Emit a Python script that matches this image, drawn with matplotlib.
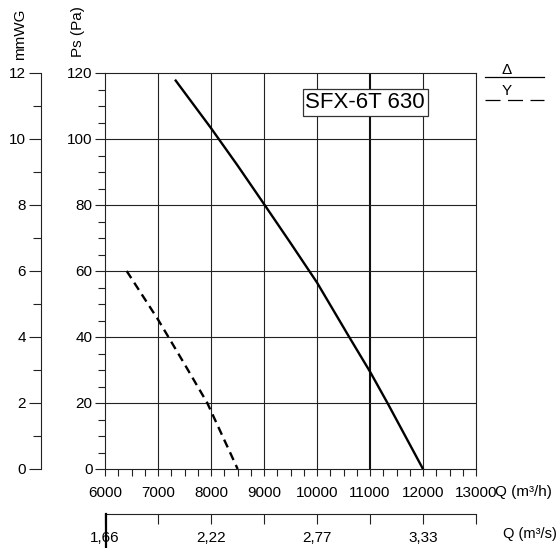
import numpy as np
import matplotlib
matplotlib.use("Agg")
import matplotlib.pyplot as plt
from matplotlib.lines import Line2D
from matplotlib.ticker import MultipleLocator, FixedLocator

plt.rcParams["font.family"] = ["Liberation Sans", "DejaVu Sans"]

# curve data
q_delta = [7334, 8000, 8500, 9000, 9500, 10000, 10600, 11000, 11330, 12000]
ps_delta = [117.7, 103.3, 92.0, 80.3, 68.5, 56.5, 40.2, 29.5, 20.0, 0]

q_star = [6409, 7000, 7500, 7930, 8503]
ps_star = [60, 45.3, 31.8, 20.0, 0]

q_ticks = [6000, 7000, 8000, 9000, 10000, 11000, 12000, 13000]
qs_ticks = [6000, 8000, 10000, 12000]
qs_labels = ["1,66", "2,22", "2,77", "3,33"]
mm_ticks = [0, 2, 4, 6, 8, 10, 12]

W, H = 560, 548
fig = plt.figure(figsize=(W / 100, H / 100), dpi=100)
FS = 11

def fx(px):
    return px / W

def fy(py):
    return 1 - py / H

x0, x1 = 105, 476
y0, y1 = 469, 73
ax = fig.add_axes([fx(x0), fy(y0), fx(x1 - x0), (y0 - y1) / H])
ax.set_xlim(6000, 13000)
ax.set_ylim(0, 120)

for v in q_ticks[1:-1]:
    if v == 11000:
        ax.axvline(v, color="#111111", lw=1.5, zorder=1)
    else:
        ax.axvline(v, color="#222222", lw=0.8, zorder=1)
for v in range(20, 120, 20):
    ax.axhline(v, color="#222222", lw=0.8, zorder=1)

ax.plot(q_delta, ps_delta, color="black", lw=1.7, zorder=3)
ax.plot(q_star, ps_star, color="black", lw=1.7, ls=(0, (3.6, 2.3)), zorder=3)

for s in ax.spines.values():
    s.set_linewidth(0.8)
    s.set_color("#222222")

ax.xaxis.set_major_locator(FixedLocator(q_ticks))
ax.xaxis.set_minor_locator(MultipleLocator(250))
ax.yaxis.set_major_locator(MultipleLocator(20))
ax.yaxis.set_minor_locator(MultipleLocator(5))
ax.tick_params(axis="both", which="major", direction="out", length=7, width=0.8,
               labelsize=FS, color="#222222")
ax.tick_params(axis="both", which="minor", direction="out", length=5, width=0.8,
               color="#222222")
ax.tick_params(axis="x", which="major", length=5, pad=7)
ax.tick_params(axis="x", which="minor", length=5)
ax.tick_params(axis="y", pad=2)

fig.text(fx(495), fy(492), "Q (m³/h)", fontsize=FS, ha="left", va="center")

# SFX box
ax.text(0.701, 0.9255, "SFX-6T 630", transform=ax.transAxes, fontsize=16,
        ha="center", va="center", zorder=5,
        bbox=dict(boxstyle="square,pad=0.12", fc="white", ec="#333333", lw=0.9))

# left mmWG axis
axm = fig.add_axes([fx(41), fy(y0), 0.001, (y0 - y1) / H])
axm.set_ylim(0, 12)
for k in ["top", "right", "bottom"]:
    axm.spines[k].set_visible(False)
axm.spines["left"].set_linewidth(0.8)
axm.spines["left"].set_color("#222222")
axm.set_xticks([])
axm.yaxis.set_major_locator(FixedLocator(mm_ticks))
axm.yaxis.set_minor_locator(MultipleLocator(1))
axm.tick_params(axis="y", which="major", length=9, width=0.8, labelsize=FS, pad=2,
                color="#222222")
axm.tick_params(axis="y", which="minor", length=6, width=0.8, color="#222222")

fig.text(fx(20), fy(34), "mmWG", rotation=90, fontsize=FS, ha="center", va="center")
fig.text(fx(78), fy(32), "Ps (Pa)", rotation=90, fontsize=FS, ha="center", va="center")

# m3/s axis
axs = fig.add_axes([fx(x0), fy(514), fx(x1 - x0), 0.001])
axs.set_xlim(6000, 13000)
for k in ["top", "right", "left"]:
    axs.spines[k].set_visible(False)
axs.spines["bottom"].set_linewidth(0.8)
axs.spines["bottom"].set_color("#222222")
axs.set_yticks([])
axs.xaxis.set_major_locator(FixedLocator(qs_ticks))
axs.set_xticklabels(qs_labels)
axs.xaxis.set_minor_locator(FixedLocator(q_ticks[1:]))
axs.tick_params(axis="x", which="both", direction="out", length=7, width=0.8,
                labelsize=FS, pad=5, color="#222222")
fig.add_artist(Line2D([fx(x0 + 0.5), fx(x0 + 0.5)], [fy(514), 0],
                      color="black", lw=1.6, transform=fig.transFigure))
fig.text(fx(557), fy(534), "Q (m³/s)", fontsize=10.5, ha="right", va="center")

# legend marks top right
fig.text(fx(507), fy(70), "Δ", fontsize=FS, ha="center", va="center")
fig.add_artist(Line2D([fx(485), fx(544)], [fy(77), fy(77)], color="black", lw=0.9,
                      transform=fig.transFigure))
fig.text(fx(507), fy(91), "Y", fontsize=FS, ha="center", va="center")
fig.add_artist(Line2D([fx(485), fx(544)], [fy(100), fy(100)], color="black", lw=0.9,
                      ls=(0, (12, 6)), transform=fig.transFigure))

fig.savefig("out.png", dpi=100)
